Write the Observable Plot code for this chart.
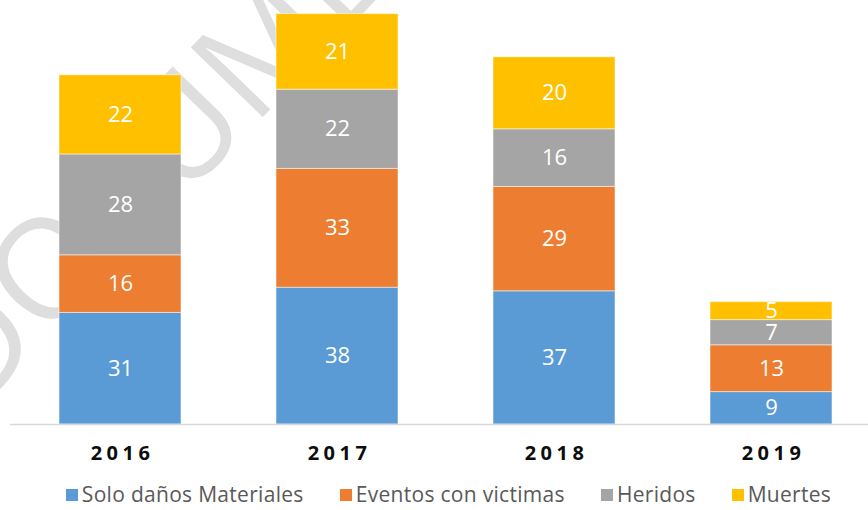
<!DOCTYPE html>
<html>
<head>
<meta charset="utf-8">
<script src="https://cdn.jsdelivr.net/npm/d3@7"></script>
<script src="https://cdn.jsdelivr.net/npm/@observablehq/plot@0.6"></script>
<style>
  html, body { margin: 0; padding: 0; background: #fff; }
  #wrap { position: relative; width: 868px; height: 510px; font-family: "Open Sans", sans-serif; }
  #wm { position: absolute; left: 0; top: 0; z-index: 0; }
  #chart { position: absolute; left: 0; top: 0; z-index: 1; }
  #chart g[aria-label="x-axis tick label"] text { letter-spacing: 4.5px; }
  #legend { position: absolute; left: 0; top: 482px; width: 868px; box-sizing: border-box; padding-left: 29px;
            display: flex; justify-content: center; gap: 36px; z-index: 2;
            font-family: "Open Sans", sans-serif; font-size: 21px; letter-spacing: 0.3px; line-height: 24px; color: #595959; }
  .item { display: flex; align-items: center; white-space: nowrap; }
  .sw { width: 12px; height: 12px; margin-right: 4px; margin-top: 2px; }
</style>
</head>
<body>
<div id="wrap">
  <svg id="wm" width="868" height="510" style="overflow:hidden">
    <text transform="translate(-25,415) rotate(-46)" font-family="Open Sans" font-size="140" fill="#dedede">DOCUMENTO</text>
  </svg>
  <div id="chart"></div>
  <div id="legend"></div>
</div>
<script>
const years = ["2016", "2017", "2018", "2019"];
const seriesNames = ["Solo daños Materiales", "Eventos con victimas", "Heridos", "Muertes"];
const soloDanos = [31, 38, 37, 9];
const eventosVictimas = [16, 33, 29, 13];
const heridos = [28, 22, 16, 7];
const muertes = [22, 21, 20, 5];
const colors = ["#5B9BD5", "#ED7D31", "#A5A5A5", "#FFC000"];

const valueLists = [soloDanos, eventosVictimas, heridos, muertes];
const data = seriesNames.flatMap((s, i) => years.map((y, j) => ({year: y, series: s, value: valueLists[i][j]})));

const chart = Plot.plot({
  width: 868,
  height: 470,
  marginTop: 0,
  marginLeft: 10,
  marginRight: 0,
  marginBottom: 46,
  style: {background: "transparent", fontFamily: "Open Sans, sans-serif"},
  x: {domain: years, range: [10.35, 879.5], paddingInner: 0.4386, paddingOuter: 0.2193},
  y: {domain: [0, 424 / 3.6], range: [424, 0], axis: null},
  color: {domain: seriesNames, range: colors},
  marks: [
    Plot.barY(data, {x: "year", y: "value", fill: "series", stroke: "white", strokeOpacity: 0.5, strokeWidth: 1}),
    Plot.ruleY([0], {stroke: "#d9d9d9", strokeWidth: 1.5}),
    Plot.text(data, Plot.stackY({x: "year", y: "value", text: d => String(d.value), fill: "white", fontSize: 22})),
    Plot.axisX({tickSize: 0, tickPadding: 21, fontSize: 20, fontWeight: "bold", fill: "#0d0d0d", dx: 2, label: null})
  ]
});
document.getElementById("chart").appendChild(chart);

const legend = document.getElementById("legend");
seriesNames.forEach((s, i) => {
  const item = document.createElement("div");
  item.className = "item";
  const sw = document.createElement("span");
  sw.className = "sw";
  sw.style.background = colors[i];
  const t = document.createElement("span");
  t.textContent = s;
  item.appendChild(sw);
  item.appendChild(t);
  legend.appendChild(item);
});
</script>
</body>
</html>
